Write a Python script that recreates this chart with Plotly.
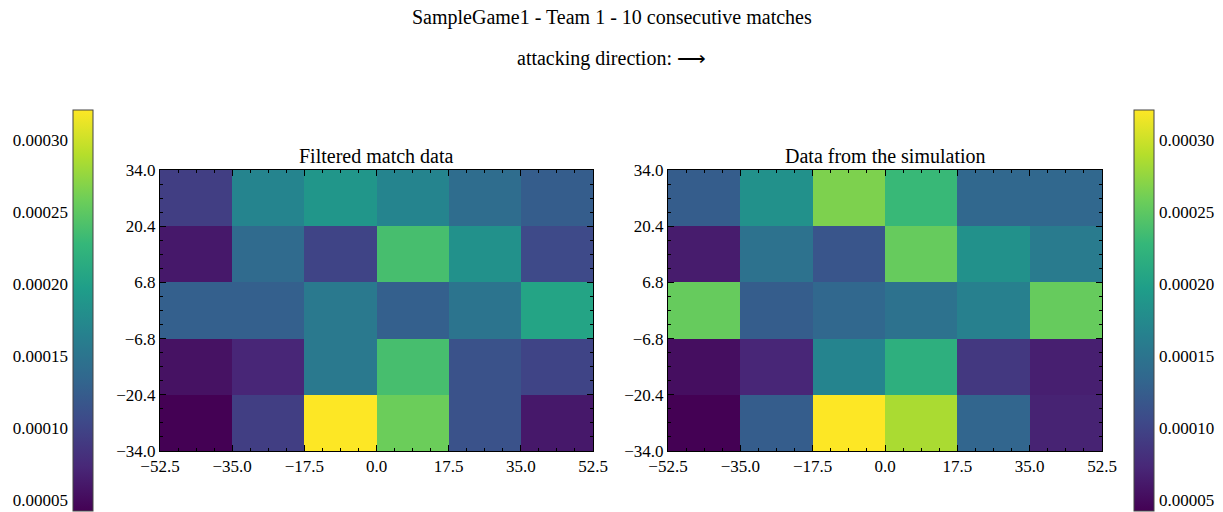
import plotly.graph_objects as go

# Pitch grid (cell centres) and tick labels
x_centers = [-43.75, -26.25, -8.75, 8.75, 26.25, 43.75]
y_centers = [-27.2, -13.6, 0.0, 13.6, 27.2]
x_ticks = [-52.5, -35.0, -17.5, 0.0, 17.5, 35.0, 52.5]
y_ticks = [-34.0, -20.4, -6.8, 6.8, 20.4, 34.0]
cbar_ticks = [0.00005, 0.00010, 0.00015, 0.00020, 0.00025, 0.00030]

# Densities, rows from bottom (y=-34) to top (y=34)
filtered = [
    [0.0000425, 0.0000943, 0.0003210, 0.0002574, 0.0001136, 0.0000611],
    [0.0000556, 0.0000722, 0.0001551, 0.0002381, 0.0001136, 0.0000998],
    [0.0001275, 0.0001275, 0.0001551, 0.0001275, 0.0001496, 0.0002049],
    [0.0000611, 0.0001385, 0.0000998, 0.0002381, 0.0001828, 0.0001053],
    [0.0000943, 0.0001689, 0.0001883, 0.0001689, 0.0001413, 0.0001247],
]
simulated = [
    [0.0000425, 0.0001247, 0.0003210, 0.0002851, 0.0001330, 0.0000694],
    [0.0000528, 0.0000722, 0.0001689, 0.0002187, 0.0000887, 0.0000666],
    [0.0002546, 0.0001247, 0.0001357, 0.0001468, 0.0001634, 0.0002546],
    [0.0000639, 0.0001468, 0.0001164, 0.0002546, 0.0001828, 0.0001579],
    [0.0001247, 0.0001828, 0.0002657, 0.0002298, 0.0001357, 0.0001357],
]
vmin, vmax = 0.0000425, 0.000321

W, H = 1223, 512
FONT = "Liberation Serif, Times New Roman, serif"


def px_x(p):
    return p / W


def px_y(p):
    return 1 - p / H


def fmt(v):
    s = f"{abs(v):.1f}"
    return ("\u2212" + s) if v < 0 else s


fig = go.Figure()

cb_common = dict(thickness=20, thicknessmode="pixels", len=401, lenmode="pixels",
                 xpad=0, ypad=0, outlinewidth=1, outlinecolor="#444",
                 showticklabels=False, ticks="", yanchor="top", y=px_y(110),
                 xanchor="left")

fig.add_trace(go.Heatmap(
    x=x_centers, y=y_centers, z=filtered, colorscale="Viridis",
    zmin=vmin, zmax=vmax, xaxis="x", yaxis="y",
    colorbar=dict(x=px_x(73), **cb_common),
))
fig.add_trace(go.Heatmap(
    x=x_centers, y=y_centers, z=simulated, colorscale="Viridis",
    zmin=vmin, zmax=vmax, xaxis="x2", yaxis="y2",
    colorbar=dict(x=px_x(1134), **cb_common),
))

# Invisible anchors so the colour-scale tick axes get drawn
for xa, ya in (("x3", "y3"), ("x4", "y4")):
    fig.add_trace(go.Scatter(x=[0.5], y=[vmin], mode="markers",
                             marker=dict(opacity=0), hoverinfo="skip",
                             xaxis=xa, yaxis=ya))

tickfont = dict(family=FONT, size=17, color="black")
plot_ydom = [px_y(451), px_y(170)]


def pitch_x(domain, anchor):
    return dict(domain=domain, anchor=anchor, range=[-52.5, 52.5],
                tickmode="array", tickvals=x_ticks,
                ticktext=[fmt(v) for v in x_ticks],
                ticks="inside", ticklen=6, tickcolor="black", tickwidth=1,
                mirror="allticks", showline=True, linecolor="black", linewidth=1,
                showgrid=False, zeroline=False, tickfont=tickfont,
                ticklabeloverflow="allow",
                minor=dict(tickmode="linear", tick0=-52.5, dtick=4.375,
                           ticks="inside", ticklen=3, tickcolor="black",
                           showgrid=False))


def pitch_y(domain, anchor):
    return dict(domain=domain, anchor=anchor, range=[-34, 34],
                tickmode="array", tickvals=y_ticks,
                ticktext=[fmt(v) for v in y_ticks],
                ticks="inside", ticklen=6, tickcolor="black", tickwidth=1,
                mirror="allticks", showline=True, linecolor="black", linewidth=1,
                showgrid=False, zeroline=False, tickfont=tickfont,
                ticklabeloverflow="allow",
                minor=dict(tickmode="linear", tick0=-34, dtick=3.4,
                           ticks="inside", ticklen=3, tickcolor="black",
                           showgrid=False))


def cbar_axis(side, anchor):
    return dict(domain=[px_y(511), px_y(110)], range=[vmin, vmax],
                anchor=anchor, side=side,
                tickmode="array", tickvals=cbar_ticks,
                ticktext=[f"{v:.5f}" for v in cbar_ticks],
                ticks="inside", ticklen=5, tickcolor="black",
                showgrid=False, zeroline=False, showline=False,
                tickfont=tickfont, ticklabeloverflow="allow",
                ticklabelstandoff=4,
                minor=dict(tickmode="linear", tick0=0, dtick=0.00001,
                           ticks="inside", ticklen=2.5, tickcolor="black",
                           showgrid=False))


fig.update_layout(
    width=W, height=H,
    margin=dict(l=0, r=0, t=0, b=0, autoexpand=False),
    paper_bgcolor="white", plot_bgcolor="rgba(0,0,0,0)",
    font=dict(family=FONT, color="black"),
    xaxis=pitch_x([px_x(160), px_x(593)], "y"),
    yaxis=pitch_y(plot_ydom, "x"),
    xaxis2=pitch_x([px_x(668), px_x(1102)], "y2"),
    yaxis2=pitch_y(plot_ydom, "x2"),
    xaxis3=dict(domain=[px_x(73), px_x(93)], anchor="y3", visible=False,
                range=[0, 1]),
    yaxis3=cbar_axis("left", "x3"),
    xaxis4=dict(domain=[px_x(1134), px_x(1154)], anchor="y4", visible=False,
                range=[0, 1]),
    yaxis4=cbar_axis("right", "x4"),
    showlegend=False,
)

title_font = dict(family=FONT, size=20, color="black")
annotations = [
    ("SampleGame1 - Team 1 - 10 consecutive matches", 0.5, 17),
    ("attacking direction: \u27f6", 0.5, 58),
    ("Filtered match data", px_x((160 + 593) / 2), 156),
    ("Data from the simulation", px_x((668 + 1102) / 2), 156),
]
for text, x, y in annotations:
    fig.add_annotation(text=text, x=x, y=px_y(y), xref="paper", yref="paper",
                       xanchor="center", yanchor="middle", showarrow=False,
                       font=title_font)

fig.write_html("out.html")
